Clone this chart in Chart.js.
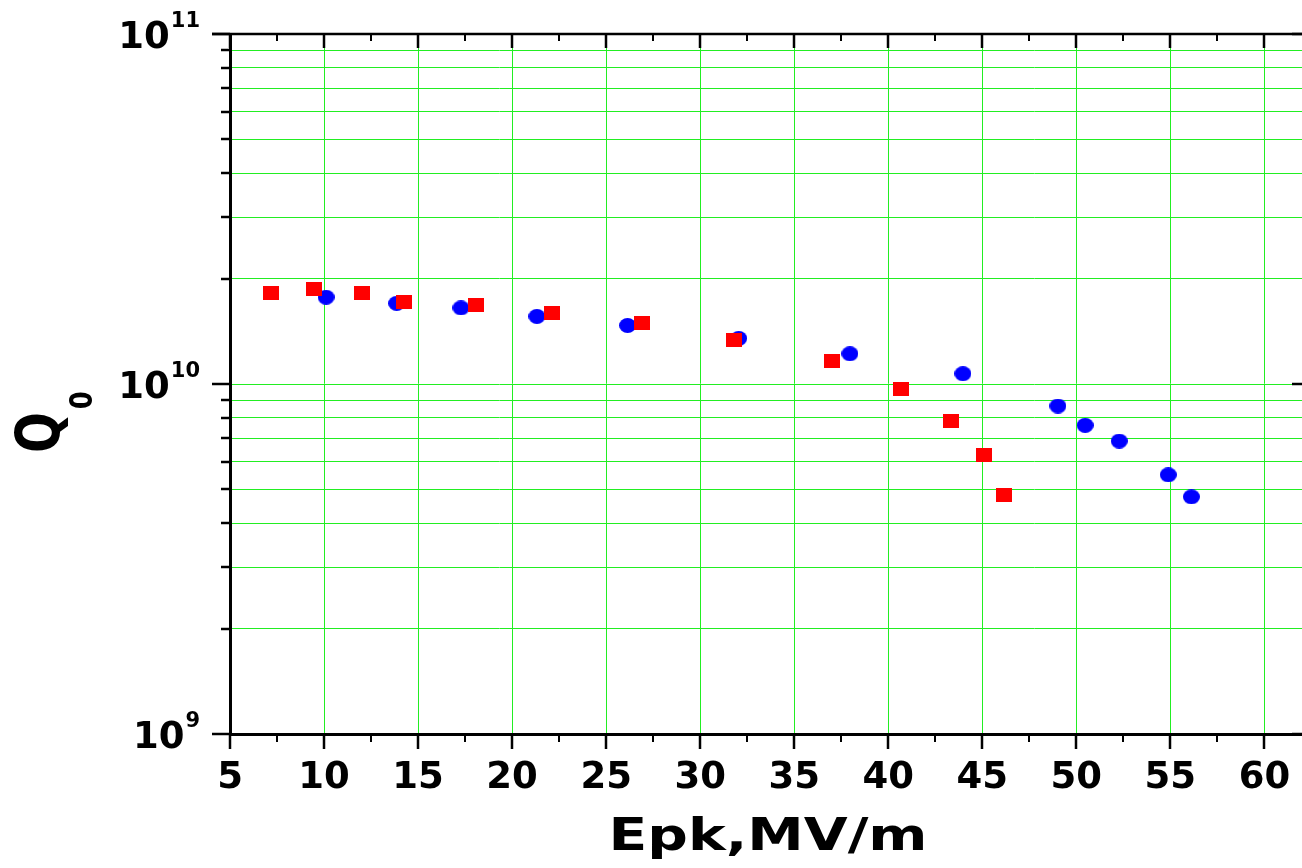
<!DOCTYPE html>
<html>
<head>
<meta charset="utf-8">
<title>Q0 vs Epk</title>
<script src="https://cdn.jsdelivr.net/npm/chart.js@4.4.0/dist/chart.umd.min.js"></script>
<style>
	html, body { margin: 0; padding: 0; background: #fff; overflow: hidden; }
</style>
</head>
<body>
<canvas id="qChart" width="1302" height="868"></canvas>
<script>
// serie rouge (carres)
const redEpk = [7.19, 9.49, 12.02, 14.25, 18.09, 22.1, 26.91, 31.8, 37.03, 40.69, 43.33, 45.1, 46.15];
const redQ0 = [1.82e10, 1.87e10, 1.82e10, 1.71e10, 1.68e10, 1.6e10, 1.49e10, 1.34e10, 1.16e10, 9.65e9, 7.86e9, 6.27e9, 4.83e9];

// serie bleue (ronds)
const blueEpk = [10.11, 13.86, 17.28, 21.32, 26.14, 32.05, 37.96, 43.97, 49.02, 50.47, 52.28, 54.89, 56.12];
const blueQ0 = [1.77e10, 1.7e10, 1.65e10, 1.56e10, 1.47e10, 1.35e10, 1.22e10, 1.07e10, 8.65e9, 7.62e9, 6.87e9, 5.5e9, 4.76e9];

// graduations
const xTicks = [5, 10, 15, 20, 25, 30, 35, 40, 45, 50, 55, 60];
const xMinorTicks = [7.5, 12.5, 17.5, 22.5, 27.5, 32.5, 37.5, 42.5, 47.5, 52.5, 57.5];
const yDecades = [1e9, 1e10, 1e11];
const yExponents = ["9", "10", "11"];
const yMinorSteps = [2, 3, 4, 5, 6, 7, 8, 9];

const green = "#22ee22";
const fontName = "'DejaVu Sans'";

// lignes de grille horizontales : 1..9 x chaque decade
const yGridValues = [];
yDecades.slice(0, -1).forEach((d) => {
	yGridValues.push(d);
	yMinorSteps.forEach((m) => yGridValues.push(m * d));
});
yGridValues.push(yDecades[yDecades.length - 1]);

function makeMarker(w, h, color, round) {
	const c = document.createElement("canvas");
	c.width = w;
	c.height = h;
	const g = c.getContext("2d");
	g.fillStyle = color;
	if (round) {
		g.beginPath();
		g.ellipse(w / 2, h / 2, w / 2, h / 2, 0, 0, 2 * Math.PI);
		g.fill();
	} else {
		g.fillRect(0, 0, w, h);
	}
	return c;
}

function line(c, x1, y1, x2, y2) {
	c.beginPath();
	c.moveTo(x1, y1);
	c.lineTo(x2, y2);
	c.stroke();
}

/**
 * cadre, petites graduations et textes (exposants, Q0, titre x)
 */
const axisDecor = {
	id: "axisDecor",
	afterDraw(chart) {
		const c = chart.ctx;
		const a = chart.chartArea;
		const xs = chart.scales.x;
		const ys = chart.scales.y;
		c.save();
		c.strokeStyle = "#000";
		c.fillStyle = "#000";

		// cadre du haut
		c.lineWidth = 2.5;
		line(c, 212, a.top, 1302, a.top);

		// graduations x (bas vers l'exterieur, haut vers l'interieur)
		xTicks.forEach((v) => {
			const px = Math.round(xs.getPixelForValue(v));
			c.lineWidth = 2.5;
			line(c, px, a.bottom, px, a.bottom + 15);
			line(c, px, a.top, px, a.top + 14);
		});
		xMinorTicks.forEach((v) => {
			const px = Math.round(xs.getPixelForValue(v));
			c.lineWidth = 2;
			line(c, px, a.bottom, px, a.bottom + 8);
			line(c, px, a.top, px, a.top + 7);
		});

		// graduations y
		yGridValues.forEach((v) => {
			const py = Math.round(ys.getPixelForValue(v));
			const major = yDecades.includes(v);
			c.lineWidth = 2.5;
			line(c, major ? 212 : 221, py, a.left, py);
			if (major) line(c, a.right - 10, py, a.right, py);
		});

		// etiquettes 10^n
		c.textAlign = "right";
		c.textBaseline = "alphabetic";
		yDecades.forEach((v, i) => {
			const py = ys.getPixelForValue(v);
			c.font = "bold 21px " + fontName;
			const expW = c.measureText(yExponents[i]).width;
			c.fillText(yExponents[i], 200, py - 7);
			c.font = "bold 37px " + fontName;
			c.fillText("10", 200 - expW - 1, py + 13.5);
		});

		// titre y : Q0 tourne
		c.save();
		c.translate(59, 453);
		c.scale(1.25, 1);
		c.rotate(-Math.PI / 2);
		c.textAlign = "left";
		c.font = "bold 48px " + fontName;
		c.fillText("Q", 0, 0);
		const qW = c.measureText("Q").width;
		c.font = "bold 26px " + fontName;
		c.fillText("0", qW + 3, 26);
		c.restore();

		// titre x, etire comme l'original
		c.save();
		c.font = "bold 44px " + fontName;
		const title = "Epk,MV/m";
		const tW = c.measureText(title).width;
		c.translate(768, 850);
		c.scale(319 / tW, 1);
		c.textAlign = "center";
		c.fillText(title, 0, 0);
		c.restore();

		c.restore();
	},
};

const redMarker = makeMarker(16, 14, "#ff0000", false);
const blueMarker = makeMarker(17, 15, "#0000ff", true);

const ctx = document.getElementById("qChart").getContext("2d");

new Chart(ctx, {
	type: "scatter",
	data: {
		datasets: [
			{
				label: "red",
				data: redEpk.map((x, i) => ({ x: x, y: redQ0[i] })),
				pointStyle: redMarker,
				pointRadius: 8,
				order: 0,
			},
			{
				label: "blue",
				data: blueEpk.map((x, i) => ({ x: x, y: blueQ0[i] })),
				pointStyle: blueMarker,
				pointRadius: 8,
				order: 1,
			},
		],
	},
	options: {
		responsive: false,
		animation: false,
		layout: { autoPadding: false, padding: { top: 34, left: 0, right: 0, bottom: 0 } },
		plugins: {
			legend: { display: false },
			tooltip: { enabled: false },
		},
		scales: {
			x: {
				type: "linear",
				min: 5,
				max: 62,
				afterBuildTicks: (s) => {
					s.ticks = xTicks.map((v) => ({ value: v }));
				},
				afterFit: (s) => {
					s.height = 134;
					s.paddingLeft = 0;
					s.paddingRight = 0;
				},
				grid: { color: green, lineWidth: 1, drawTicks: false },
				border: { color: "#000", width: 3 },
				ticks: {
					color: "#000",
					font: { family: "DejaVu Sans", weight: "bold", size: 37 },
					padding: 22,
					maxRotation: 0,
					autoSkip: false,
				},
			},
			y: {
				type: "logarithmic",
				min: 1e9,
				max: 1e11,
				afterBuildTicks: (s) => {
					s.ticks = yGridValues.map((v) => ({ value: v }));
				},
				afterFit: (s) => {
					s.width = 230;
					s.paddingTop = 0;
					s.paddingBottom = 0;
				},
				grid: { color: green, lineWidth: 1, drawTicks: false },
				border: { color: "#000", width: 3 },
				ticks: { display: false },
			},
		},
	},
	plugins: [axisDecor],
});
</script>
</body>
</html>
